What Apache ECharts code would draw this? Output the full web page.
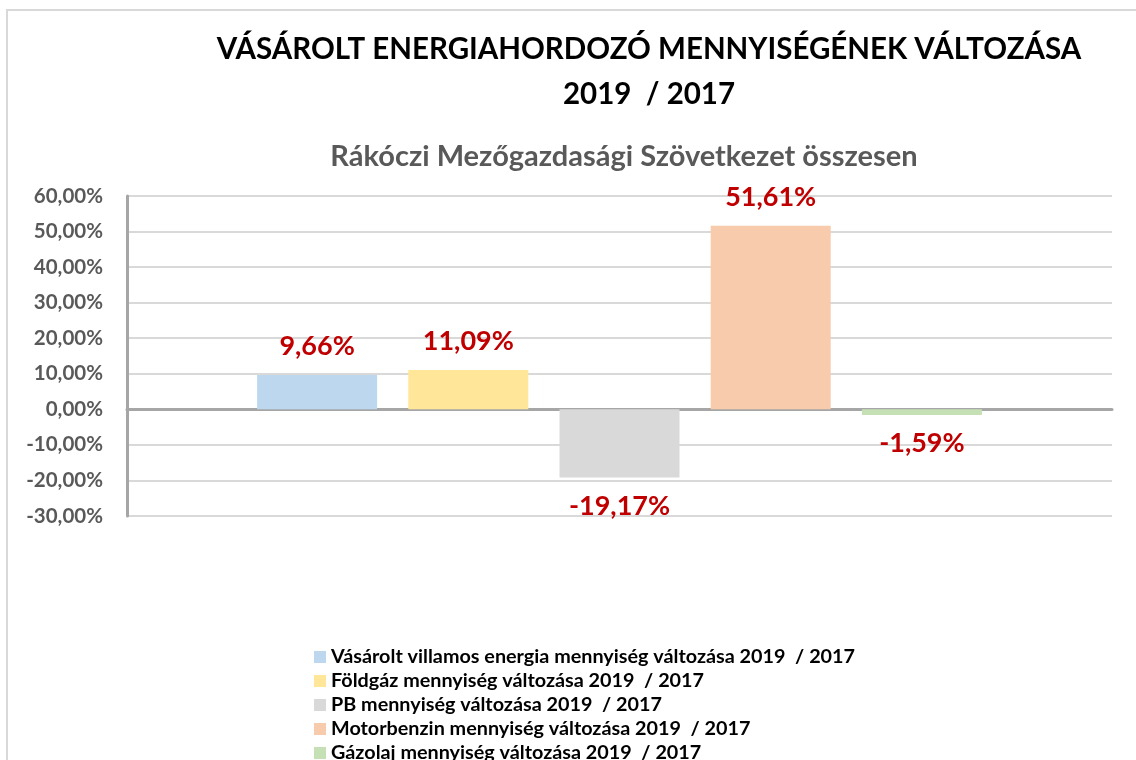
<!DOCTYPE html>
<html>
<head>
<meta charset="utf-8">
<script src="https://cdn.jsdelivr.net/npm/echarts@6/dist/echarts.min.js"></script>
<style>
  html, body { margin: 0; padding: 0; background: #fff; }
  #chart { width: 1136px; height: 760px; }
</style>
</head>
<body>
<div id="chart"></div>
<script>
// sorozatok (egy-egy oszlop)
const seriesNames = [
  'Vásárolt villamos energia mennyiség változása 2019  / 2017',
  'Földgáz mennyiség változása 2019  / 2017',
  'PB mennyiség változása 2019  / 2017',
  'Motorbenzin mennyiség változása 2019  / 2017',
  'Gázolaj mennyiség változása 2019  / 2017'
]
const seriesValues = [9.66, 11.09, -19.17, 51.61, -1.59]
const seriesColors = ['#BDD7EE', '#FFE699', '#D9D9D9', '#F8CBAD', '#C5E0B4']
const categories = ['']
const yMin = -30
const yMax = 60
const yStep = 10

const FONT = 'Lato'
const pct = v => v.toFixed(2).replace('.', ',') + '%'

const chart = echarts.init(document.getElementById('chart'))

const series = seriesNames.map((name, i) => ({
  name: name,
  type: 'bar',
  data: [seriesValues[i]],
  barWidth: 120,
  barGap: '26%',
  itemStyle: { color: seriesColors[i] },
  label: {
    show: true,
    position: seriesValues[i] < 0 ? 'bottom' : 'top',
    distance: 15,
    color: '#C00000',
    fontFamily: FONT,
    fontWeight: 'bold',
    fontSize: 27,
    formatter: p => pct(p.value)
  }
}))

chart.setOption({
  animation: false,
  textStyle: { fontFamily: FONT },
  title: [{
    text: 'VÁSÁROLT ENERGIAHORDOZÓ MENNYISÉGÉNEK VÁLTOZÁSA\n2019  / 2017',
    left: 644,
    top: 22,
    textAlign: 'center',
    textStyle: {
      fontFamily: FONT,
      fontSize: 29.5,
      fontWeight: 'bold',
      color: '#000',
      lineHeight: 45
    }
  }, {
    text: 'Rákóczi Mezőgazdasági Szövetkezet összesen',
    left: 619,
    top: 137,
    textAlign: 'center',
    textStyle: {
      fontFamily: FONT,
      fontSize: 29,
      fontWeight: 'bold',
      color: '#595959'
    }
  }],
  graphic: [{
    type: 'rect',
    shape: { x: 7, y: 10, width: 1200, height: 800 },
    style: { fill: 'none', stroke: '#D9D9D9', lineWidth: 2 },
    silent: true
  }],
  legend: {
    orient: 'vertical',
    left: 314,
    top: 645,
    height: 140,
    padding: 0,
    itemWidth: 12,
    itemHeight: 12,
    itemGap: 0,
    icon: 'rect',
    textStyle: {
      fontFamily: FONT,
      fontWeight: 'bold',
      fontSize: 19.8,
      color: '#000',
      lineHeight: 24
    },
    data: seriesNames
  },
  grid: {
    left: 127,
    right: 24,
    top: 196,
    bottom: 244,
    containLabel: false
  },
  xAxis: {
    type: 'category',
    data: categories,
    axisLine: { show: true, onZero: true, lineStyle: { color: '#A6A6A6', width: 3 } },
    axisTick: { show: false },
    axisLabel: { show: false },
    splitLine: { show: false }
  },
  yAxis: {
    type: 'value',
    min: yMin,
    max: yMax,
    interval: yStep,
    axisLine: { show: true, lineStyle: { color: '#A6A6A6', width: 3 } },
    axisTick: { show: false },
    splitLine: { show: true, lineStyle: { color: '#D9D9D9', width: 2 } },
    axisLabel: {
      margin: 24,
      color: '#595959',
      fontFamily: FONT,
      fontWeight: 'bold',
      fontSize: 20.5,
      formatter: v => pct(v)
    }
  },
  series: series
})
</script>
</body>
</html>
